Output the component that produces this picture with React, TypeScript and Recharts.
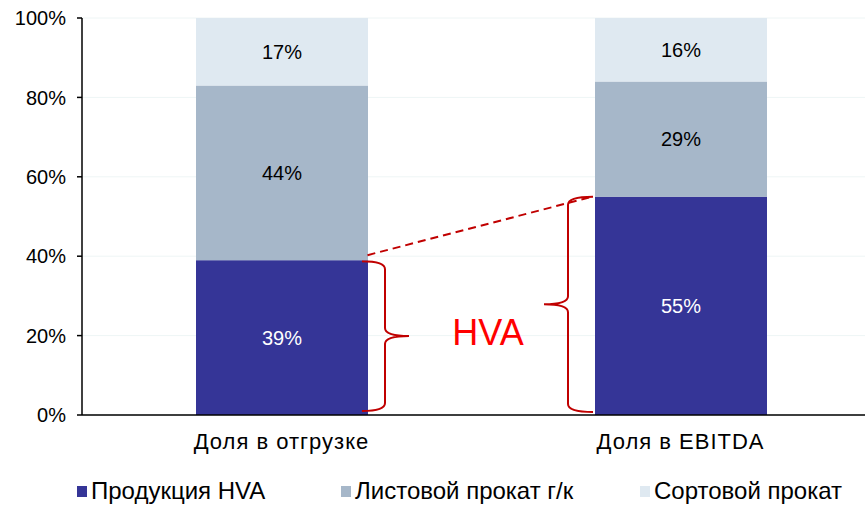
import React from 'react';
import { BarChart, Bar, XAxis, YAxis, CartesianGrid, Legend, LabelList, ReferenceLine } from 'recharts';

const categories = ['Доля в отгрузке', 'Доля в EBITDA'];
const hvaValues = [39, 55];
const sheetValues = [44, 29];
const longValues = [17, 16];
const yTicks = [0, 20, 40, 60, 80, 100];
const seriesNames = ['Продукция HVA', 'Листовой прокат г/к', 'Сортовой прокат'];
const colors = ['#353597', '#a6b7c9', '#dfe9f1'];

const data = categories.map((c, i) => ({ name: c, hva: hvaValues[i], sheet: sheetValues[i], long: longValues[i] }));

const BAR = 172;
const RED_DARK = '#c00000';
const FONT = '"Liberation Sans", Arial, sans-serif';

function bracePath(xt: number, xv: number, xp: number, top: number, bottom: number, r: number) {
  const mid = (top + bottom) / 2;
  return `M ${xt} ${top} Q ${xv} ${top} ${xv} ${top + r} L ${xv} ${mid - r} Q ${xv} ${mid} ${xp} ${mid} Q ${xv} ${mid} ${xv} ${mid + r} L ${xv} ${bottom - r} Q ${xv} ${bottom} ${xt} ${bottom}`;
}

const HvaShape = (props: any) => {
  const { x, y, width, height, fill, index } = props;
  let brace;
  if (index === 0) {
    const R = x + width;
    brace = bracePath(R - 6, R + 17, R + 41, y + 1, y + height - 4, 8);
  } else {
    const L = x;
    brace = bracePath(L - 2, L - 27, L - 51, y, y + height - 3, 8);
  }
  return (
    <g>
      <rect x={x} y={y} width={width} height={height} fill={fill} />
      <path d={brace} fill="none" stroke={RED_DARK} strokeWidth={2} />
    </g>
  );
};

const ConnectorShape = (props: any) => {
  const { x1, y1, x2, y2 } = props;
  const sx = x1 + BAR / 2;
  const ex = x2 - BAR / 2 - 2;
  return (
    <g>
      <line x1={sx} y1={y1 - 5} x2={ex} y2={y2} stroke={RED_DARK} strokeWidth={2} strokeDasharray="8 5" />
      <text x={(sx + ex) / 2 + 8} y={y1 + 85} textAnchor="middle" fill="#ff0000" fontSize={36} fontFamily={FONT}>HVA</text>
    </g>
  );
};

const itemWidths = [264, 299, 225];

const LegendContent = () => (
  <div style={{ display: 'flex', alignItems: 'center', height: 30, paddingLeft: 77, fontFamily: FONT, fontSize: 24, color: '#000', whiteSpace: 'nowrap' }}>
    {seriesNames.map((n, i) => (
      <div key={n} style={{ display: 'flex', alignItems: 'center', width: itemWidths[i] }}>
        <span style={{ display: 'inline-block', width: 10, height: 11, background: colors[i], marginRight: 4 }} />
        <span>{n}</span>
      </div>
    ))}
  </div>
);

export default function App() {
  return (
    <div style={{ position: 'absolute', left: 0, top: 0, width: 865, height: 506, overflow: 'hidden', background: '#fff', fontFamily: FONT }}>
      <BarChart width={880} height={506} data={data} margin={{ top: 18, right: 0, left: 0, bottom: 0 }} barSize={BAR} barCategoryGap={0}>
        <CartesianGrid vertical={false} stroke="#eef5f5" />
        <XAxis dataKey="name" height={61} tickLine={false} axisLine={{ stroke: '#000', strokeWidth: 1.5 }} tick={{ fill: '#000', fontSize: 22, fontFamily: FONT, letterSpacing: 1 }} tickMargin={12} />
        <YAxis width={82} domain={[0, 100]} ticks={yTicks} tickFormatter={(v: number) => `${v}%`} tickSize={5} tickLine={{ stroke: '#000', strokeWidth: 1.5 }} axisLine={{ stroke: '#000', strokeWidth: 1.5 }} tick={{ fill: '#000', fontSize: 20, fontFamily: FONT }} tickMargin={11} />
        <Bar dataKey="hva" stackId="a" fill={colors[0]} isAnimationActive={false} shape={HvaShape} name={seriesNames[0]}>
          <LabelList dataKey="hva" position="center" formatter={(v: number) => `${v}%`} fill="#fff" fontSize={20} fontFamily={FONT} />
        </Bar>
        <Bar dataKey="sheet" stackId="a" fill={colors[1]} isAnimationActive={false} name={seriesNames[1]}>
          <LabelList dataKey="sheet" position="center" formatter={(v: number) => `${v}%`} fill="#000" fontSize={20} fontFamily={FONT} />
        </Bar>
        <Bar dataKey="long" stackId="a" fill={colors[2]} isAnimationActive={false} name={seriesNames[2]}>
          <LabelList dataKey="long" position="center" formatter={(v: number) => `${v}%`} fill="#000" fontSize={20} fontFamily={FONT} />
        </Bar>
        <ReferenceLine segment={[{ x: categories[0], y: hvaValues[0] }, { x: categories[1], y: hvaValues[1] }]} shape={ConnectorShape} ifOverflow="visible" />
        <Legend verticalAlign="bottom" height={30} content={LegendContent} wrapperStyle={{ left: 0, width: 865 }} />
      </BarChart>
    </div>
  );
}
